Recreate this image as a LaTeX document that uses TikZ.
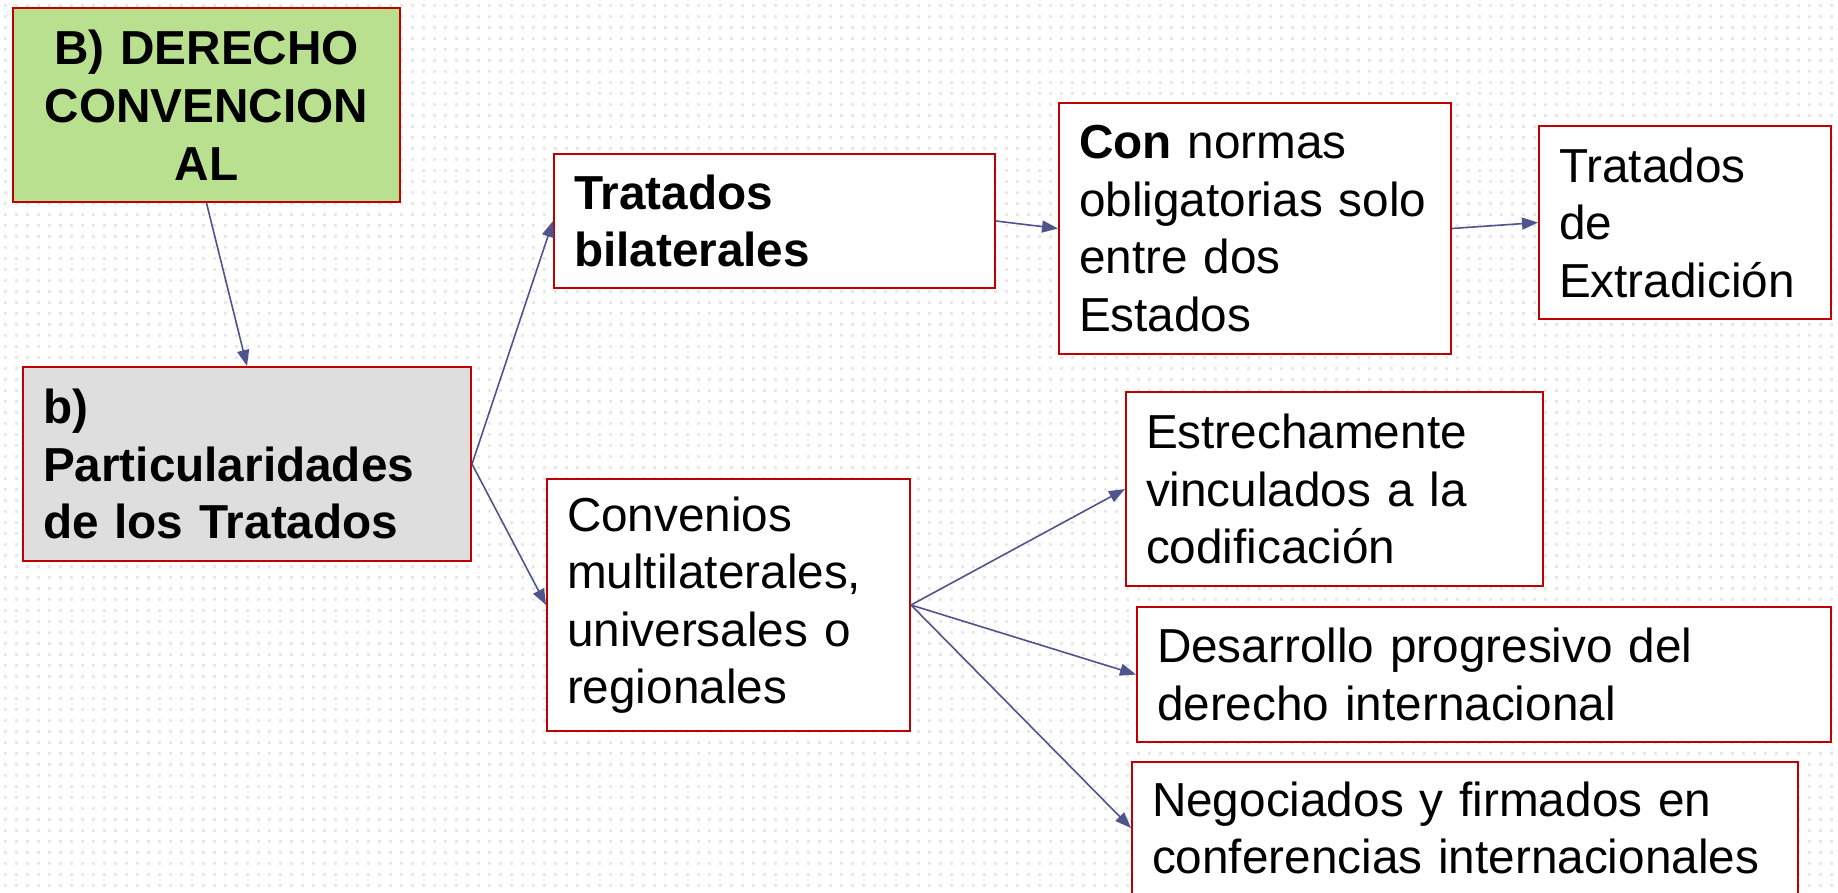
\documentclass[tikz,border=0pt]{standalone}
\usepackage{fontspec}
\setmainfont{Liberation Sans}
\usetikzlibrary{arrows.meta}
\definecolor{boxred}{HTML}{C00000}
\definecolor{arrowblue}{HTML}{50548C}
\definecolor{boxgreen}{HTML}{B9E08F}
\definecolor{boxgray}{HTML}{DEDEDE}
\definecolor{dotgray}{HTML}{E8E8E8}
\begin{document}
\begin{tikzpicture}[x=1pt,y=-1pt,
  box/.style={draw=boxred, line width=2pt, fill=white, rectangle, inner xsep=20pt, inner ysep=0pt, align=left, font=\fontsize{47.7}{57.5}\selectfont},
  boldbox/.style={box, font=\bfseries\fontsize{47.7}{57.5}\selectfont},
  conn/.style={draw=arrowblue, line width=1.6pt, -{Triangle[length=16pt,width=12pt]}},
  dotrow/.style={draw=dotgray, line width=3pt, dash pattern=on 3pt off 8pt}]
\useasboundingbox (0,0) rectangle (1838,892);
\fill[white] (0,0) rectangle (1838,892);
\foreach \y in {5,16,...,892} \draw[dotrow] (4,\y) -- (1838,\y);

\node[boldbox, fill=boxgreen, align=center, font=\bfseries\fontsize{47.7}{58}\selectfont, minimum width=387pt, minimum height=194pt, text width=347pt] (A) at (206.5,105) {B) DERECHO\\CONVENCION\\AL};
\node[boldbox, fill=boxgray, minimum width=448pt, minimum height=194pt, text width=408pt] (B) at (247,464) {b)\\Particularidades\\de los Tratados};
\node[boldbox, minimum width=441pt, minimum height=134pt, text width=401pt] (C) at (774.5,221) {Tratados\\bilaterales};
\node[box, minimum width=390pt, minimum height=251pt, text width=352pt] (D) at (1255,228.5) {\textbf{Con} normas\\obligatorias solo\\entre dos\\Estados};
\node[box, minimum width=292pt, minimum height=193pt, text width=252pt] (E) at (1685,222.5) {Tratados\\de\\Extradición};
\node[box, minimum width=363pt, minimum height=252pt, text width=323pt] (F) at (728.5,605) {Convenios\\multilaterales,\\universales o\\regionales};
\node[box, minimum width=417pt, minimum height=194pt, text width=377pt] (G) at (1334.5,489) {Estrechamente\\vinculados a la\\codificación};
\node[box, minimum width=694pt, minimum height=135pt, text width=654pt] (H) at (1484,674.5) {Desarrollo progresivo del\\derecho internacional};
\node[box, minimum width=666pt, minimum height=132pt, text width=626pt] (I) at (1465,828) {Negociados y firmados en\\conferencias internacionales};

\draw[conn] (A.south) -- (B.north);
\draw[conn] (B.east) -- (C.west);
\draw[conn] (B.east) -- (F.west);
\draw[conn] (C.east) -- (D.west);
\draw[conn] (D.east) -- (E.west);
\draw[conn] (F.east) -- (G.west);
\draw[conn] (F.east) -- (H.west);
\draw[conn] (F.east) -- (I.west);
\end{tikzpicture}
\end{document}
